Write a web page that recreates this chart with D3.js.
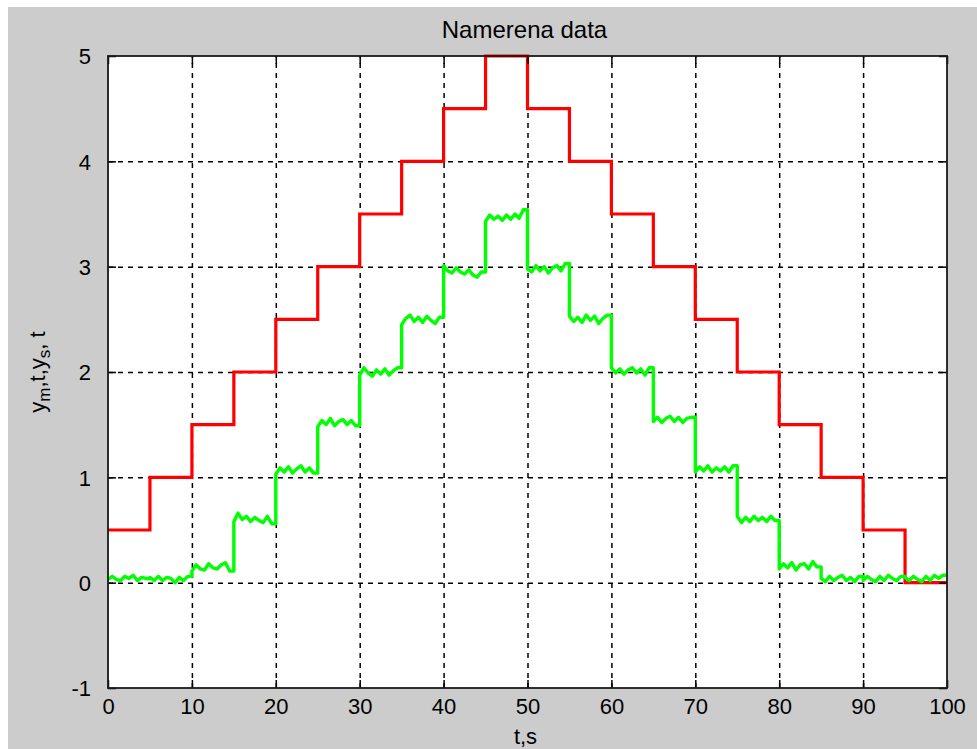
<!DOCTYPE html>
<html>
<head>
<meta charset="utf-8">
<script src="https://cdn.jsdelivr.net/npm/d3@7"></script>
<style>
  html, body { margin: 0; padding: 0; background: #ffffff; }
  svg { display: block; }
  text { font-family: "Liberation Sans", Arial, sans-serif; fill: #000; }
</style>
</head>
<body>
<svg id="chart" width="977" height="749"></svg>
<script>
// ---------- data ----------
const titleText = "Namerena data";
const xLabelText = "t,s";
const xTicks = [0, 10, 20, 30, 40, 50, 60, 70, 80, 90, 100];
const yTicks = [-1, 0, 1, 2, 3, 4, 5];

// red reference signal: step levels starting at each time
const redTimes  = [0, 5, 10, 15, 20, 25, 30, 35, 40, 45, 50, 55, 60, 65, 70, 75, 80, 85, 90, 95, 100];
const redValues = [0.5, 1.0, 1.5, 2.0, 2.5, 3.0, 3.5, 4.0, 4.5, 5.0, 4.5, 4.0, 3.5, 3.0, 2.5, 2.0, 1.5, 1.0, 0.5, 0.0, 0.0];

// green measured signal: start time of each 5 s segment, and values read every 0.5 s
const greenStarts = [0, 5, 10, 15, 20, 25, 30, 35, 40, 45, 50, 55, 60, 65, 70, 75, 80, 85, 90, 95];
const greenValues = [
  [0.03, 0.06, 0.03, 0.02, 0.06, 0.04, 0.07, 0.02, 0.05, 0.04],
  [0.05, 0.02, 0.06, 0.02, 0.05, 0.04, 0.00, 0.05, 0.02, 0.06],
  [0.11, 0.17, 0.13, 0.12, 0.18, 0.14, 0.13, 0.17, 0.19, 0.11],
  [0.58, 0.66, 0.60, 0.63, 0.58, 0.62, 0.59, 0.57, 0.63, 0.56],
  [1.03, 1.09, 1.05, 1.10, 1.04, 1.08, 1.11, 1.05, 1.09, 1.04],
  [1.48, 1.54, 1.50, 1.56, 1.49, 1.53, 1.55, 1.50, 1.54, 1.49],
  [1.97, 2.04, 1.99, 1.96, 2.02, 1.98, 2.03, 1.97, 2.01, 2.04],
  [2.45, 2.51, 2.54, 2.48, 2.52, 2.47, 2.53, 2.49, 2.46, 2.52],
  [3.01, 2.96, 2.94, 2.99, 2.95, 2.93, 2.97, 2.92, 2.90, 2.95],
  [3.43, 3.49, 3.45, 3.48, 3.44, 3.49, 3.45, 3.50, 3.46, 3.54],
  [2.98, 2.95, 3.01, 2.96, 3.00, 2.94, 2.99, 3.01, 2.96, 3.03],
  [2.53, 2.48, 2.52, 2.47, 2.54, 2.49, 2.53, 2.46, 2.51, 2.54],
  [2.04, 1.99, 2.03, 1.98, 2.02, 2.04, 1.99, 2.03, 1.97, 2.04],
  [1.53, 1.57, 1.52, 1.56, 1.58, 1.53, 1.57, 1.52, 1.56, 1.57],
  [1.05, 1.10, 1.06, 1.11, 1.05, 1.09, 1.06, 1.10, 1.05, 1.11],
  [0.63, 0.57, 0.62, 0.58, 0.63, 0.59, 0.62, 0.58, 0.63, 0.59],
  [0.13, 0.18, 0.14, 0.19, 0.12, 0.17, 0.18, 0.13, 0.20, 0.15],
  [0.04, 0.01, 0.06, 0.02, 0.05, 0.07, 0.02, 0.05, 0.01, 0.06],
  [0.02, 0.06, 0.03, 0.01, 0.06, 0.02, 0.07, 0.04, 0.02, 0.06],
  [0.05, 0.02, 0.06, 0.03, 0.01, 0.06, 0.02, 0.07, 0.04, 0.07]
];
const greenStep = 0.5;

// ---------- layout ----------
const W = 977, H = 749;
const plot = { left: 108, top: 56, right: 947, bottom: 688 };

const svg = d3.select("#chart");

// figure background
svg.append("rect").attr("x", 0).attr("y", 0).attr("width", W).attr("height", H).attr("fill", "#ffffff");
svg.append("rect").attr("x", 8).attr("y", 7).attr("width", W - 8).attr("height", H - 7).attr("fill", "#cccccc");

const x = d3.scaleLinear().domain([0, 100]).range([plot.left, plot.right]);
const y = d3.scaleLinear().domain([-1, 5]).range([plot.bottom, plot.top]);

// axes area
svg.append("rect")
  .attr("x", plot.left).attr("y", plot.top)
  .attr("width", plot.right - plot.left).attr("height", plot.bottom - plot.top)
  .attr("fill", "#ffffff");

const pw = plot.right - plot.left, ph = plot.bottom - plot.top;

// grid
const gridX = svg.append("g").attr("transform", `translate(0,${plot.bottom})`)
  .call(d3.axisBottom(x).tickValues(xTicks.slice(1, -1)).tickSize(-ph).tickFormat(""));
const gridY = svg.append("g").attr("transform", `translate(${plot.left},0)`)
  .call(d3.axisLeft(y).tickValues(yTicks.slice(1, -1)).tickSize(-pw).tickFormat(""));
[gridX, gridY].forEach(g => {
  g.select(".domain").remove();
  g.selectAll("line").attr("stroke", "#000").attr("stroke-width", 1.5).attr("stroke-dasharray", "5,5");
});

// data lines
const redData = redTimes.map((t, i) => [t, redValues[i]]);
svg.append("path")
  .datum(redData)
  .attr("fill", "none")
  .attr("stroke", "#ff0000")
  .attr("stroke-width", 3.2)
  .attr("d", d3.line().x(d => x(d[0])).y(d => y(d[1])).curve(d3.curveStepAfter));

const greenData = [];
greenStarts.forEach((s, si) => {
  const vals = greenValues[si];
  vals.forEach((v, i) => greenData.push([s + i * greenStep, v]));
  greenData.push([s + vals.length * greenStep, vals[vals.length - 1]]);
});
svg.append("path")
  .datum(greenData)
  .attr("fill", "none")
  .attr("stroke", "#00ff00")
  .attr("stroke-width", 3.4)
  .attr("stroke-linejoin", "round")
  .attr("d", d3.line().x(d => x(d[0])).y(d => y(d[1])));

// axes with inward ticks
const tickLen = 8;
const fmt = d => String(d);
const axB = svg.append("g").attr("transform", `translate(0,${plot.bottom})`)
  .call(d3.axisBottom(x).tickValues(xTicks).tickSize(-tickLen).tickFormat(fmt));
const axT = svg.append("g").attr("transform", `translate(0,${plot.top})`)
  .call(d3.axisTop(x).tickValues(xTicks).tickSize(-tickLen).tickFormat(""));
const axL = svg.append("g").attr("transform", `translate(${plot.left},0)`)
  .call(d3.axisLeft(y).tickValues(yTicks).tickSize(-tickLen).tickPadding(tickLen + 9).tickFormat(fmt));
const axR = svg.append("g").attr("transform", `translate(${plot.right},0)`)
  .call(d3.axisRight(y).tickValues(yTicks).tickSize(-tickLen).tickFormat(""));
[axB, axT, axL, axR].forEach(g => {
  g.select(".domain").remove();
  g.selectAll("line").attr("stroke", "#000").attr("stroke-width", 1.5);
  g.selectAll("text").attr("font-size", 22).attr("fill", "#000")
    .attr("font-family", "'Liberation Sans', Arial, sans-serif");
});
axB.selectAll("text").attr("dy", "0.71em").attr("y", 10);
axL.selectAll("text").attr("dy", "0.36em");

// box
svg.append("rect")
  .attr("x", plot.left).attr("y", plot.top)
  .attr("width", pw).attr("height", ph)
  .attr("fill", "none").attr("stroke", "#1a1a1a").attr("stroke-width", 1.8);

// title
svg.append("text")
  .attr("x", (plot.left + plot.right) / 2 - 3).attr("y", 38)
  .attr("text-anchor", "middle").attr("font-size", 24)
  .text(titleText);

// x label
svg.append("text")
  .attr("x", (plot.left + plot.right) / 2 - 2).attr("y", 744)
  .attr("text-anchor", "middle").attr("font-size", 22)
  .text(xLabelText);

// y label with subscripts
const yl = svg.append("text")
  .attr("transform", `translate(45,${(plot.top + plot.bottom) / 2}) rotate(-90)`)
  .attr("text-anchor", "middle").attr("font-size", 22);
yl.append("tspan").text("y");
yl.append("tspan").attr("font-size", 17).attr("dy", 5).text("m");
yl.append("tspan").attr("dy", -5).text(",t,y");
yl.append("tspan").attr("font-size", 17).attr("dy", 5).text("s");
yl.append("tspan").attr("dy", -5).text(", t");
</script>
</body>
</html>
